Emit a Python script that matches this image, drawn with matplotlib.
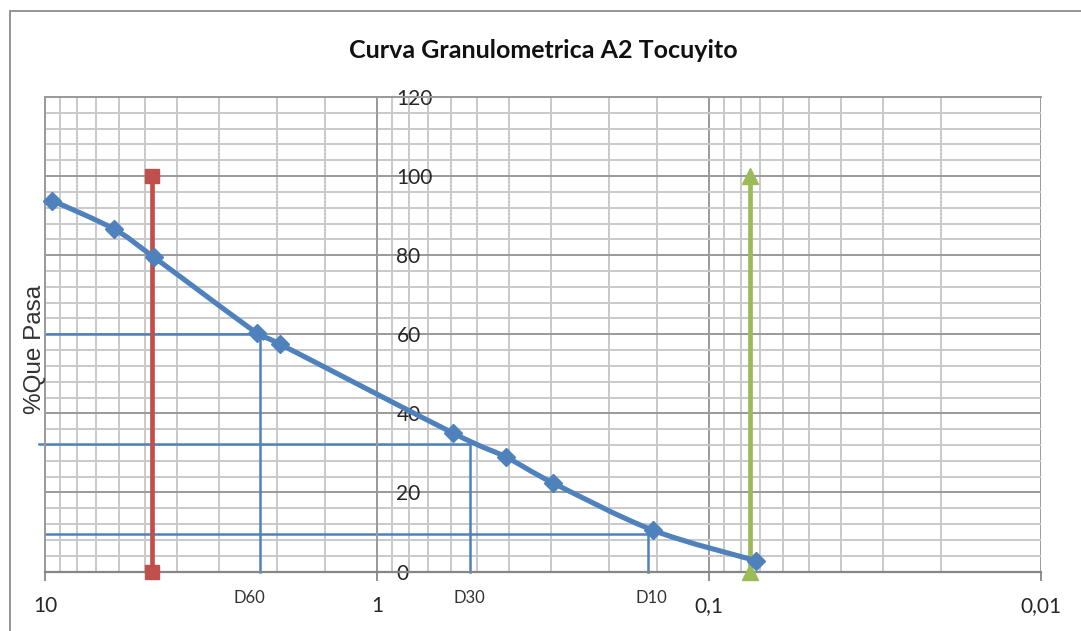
import numpy as np
import matplotlib.pyplot as plt
from matplotlib.path import Path
from matplotlib.patches import PathPatch, Rectangle
from matplotlib.ticker import FixedLocator, LogLocator, MultipleLocator, NullFormatter

#-----------------------------------------------------------------------------------------------------------
# Datos (abertura del tamiz en mm, % que pasa)
abertura = [9.5, 6.2, 4.7, 2.3, 1.96, 0.59, 0.41, 0.295, 0.147, 0.072]
pasa = [93.8, 86.6, 79.5, 60.3, 57.5, 35.0, 29.0, 22.4, 10.4, 2.7]

# Lineas verticales de los tamices No. 4 y No. 200
tamiz4_x = [4.75, 4.75]
tamiz4_y = [0, 100]
tamiz200_x = [0.075, 0.075]
tamiz200_y = [0, 100]

# Diametros efectivos
d_nombres = ['D60', 'D30', 'D10']
d_pasa = [60.0, 32.3, 9.4]
d_diam = [2.25, 0.526, 0.153]
d_inicio = [10.0, 10.46, 10.0]

# Ejes
x_ticks = [10, 1, 0.1, 0.01]
x_labels = ['10', '1', '0,1', '0,01']
y_ticks = [0, 20, 40, 60, 80, 100, 120]
extra_grid = [1.436, 0.1436]
#-----------------------------------------------------------------------------------------------------------

azul = '#4F81BD'
rojo = '#C0504D'
verde = '#9BBB59'
gris_menor = '#c9c9c9'
gris_mayor = '#9a9a9a'
texto = '#262626'

W, H = 1081, 631
fig = plt.figure(figsize=(W / 100, H / 100), dpi=100)

# Borde del area del grafico
fig.patches.append(Rectangle((10 / W, -0.1), 1.2, (H - 11) / H + 0.1, transform=fig.transFigure,
                             fill=False, ec='#8c8c8c', lw=1.3))

ax = fig.add_axes([45 / W, 59.5 / H, 996 / W, 474.5 / H])
ax.set_xscale('log')
ax.set_xlim(10, 0.01)
ax.set_ylim(0, 120)

# Rejilla
ax.xaxis.set_major_locator(FixedLocator(x_ticks))
ax.xaxis.set_minor_locator(LogLocator(base=10, subs=np.arange(2, 10)))
ax.xaxis.set_minor_formatter(NullFormatter())
ax.set_xticklabels(x_labels)
ax.yaxis.set_major_locator(FixedLocator(y_ticks))
ax.yaxis.set_minor_locator(MultipleLocator(4))
ax.grid(which='minor', color=gris_menor, lw=1.4, zorder=0)
ax.grid(which='major', color=gris_mayor, lw=1.4, zorder=0)
for xg in extra_grid:
    ax.axvline(xg, color=gris_menor, lw=1.4, zorder=0)
ax.set_axisbelow(True)

# Eje vertical cruza en x = 1
ax.spines['right'].set_position(('data', 1))
ax.spines['right'].set_color(gris_mayor)
ax.spines['right'].set_linewidth(1.4)
ax.yaxis.set_ticks_position('right')
for s in ['left', 'top']:
    ax.spines[s].set_color(gris_mayor)
    ax.spines[s].set_linewidth(1.4)
ax.spines['bottom'].set_color('#868686')
ax.spines['bottom'].set_linewidth(1.6)

ax.tick_params(axis='y', which='both', length=0, pad=14, labelsize=15, labelcolor=texto)
ax.tick_params(axis='x', which='major', length=6.5, width=1.3, color='#868686', pad=11,
               labelsize=15, labelcolor=texto)
ax.tick_params(axis='x', which='minor', length=0)
for lab in ax.get_xticklabels() + ax.get_yticklabels():
    lab.set_family('Lato')

# Lineas de D60, D30, D10
for nombre, yp, xd, x0 in zip(d_nombres, d_pasa, d_diam, d_inicio):
    ax.plot([x0, xd, xd], [yp, yp, 0], color=azul, lw=1.8, zorder=2, clip_on=False)

d_offset = [-8, 0, 3]
for nombre, xd, dx in zip(d_nombres, d_diam, d_offset):
    ax.annotate(nombre, xy=(xd, 0), xytext=(dx, -19), textcoords='offset points',
                ha='center', va='center', fontsize=12, family='Lato', color='#333333')

# Tamices No. 4 y No. 200
ax.plot(tamiz4_x, tamiz4_y, color=rojo, lw=3.4, marker='s', ms=10, zorder=3, clip_on=False)
ax.plot(tamiz200_x, tamiz200_y, color=verde, lw=3.4, marker='^', ms=11, zorder=3, clip_on=False)

# Curva granulometrica suavizada
u = np.log10(abertura)
pts = np.column_stack([u, pasa])
n = len(pts)
verts = [pts[0]]
codes = [Path.MOVETO]
for i in range(n - 1):
    p0 = pts[max(i - 1, 0)]
    p1 = pts[i]
    p2 = pts[i + 1]
    p3 = pts[min(i + 2, n - 1)]
    verts += [p1 + (p2 - p0) / 6, p2 - (p3 - p1) / 6, p2]
    codes += [Path.CURVE4] * 3
verts = np.array(verts)
verts[:, 0] = 10 ** verts[:, 0]
ax.add_patch(PathPatch(Path(verts, codes), fill=False, ec=azul, lw=3.7, zorder=4))
ax.plot(abertura, pasa, ls='none', marker='D', ms=9, color=azul, zorder=5, clip_on=False)

# Titulo y etiqueta del eje
fig.text(543 / W, 1 - 50 / H, 'Curva Granulometrica A2 Tocuyito', ha='center', va='center',
         fontsize=18, fontweight='bold', family='Lato', color='#111111')
fig.text(35 / W, 1 - 349 / H, '%Que Pasa', ha='center', va='center', rotation=90,
         fontsize=17.5, family='Liberation Sans', color='#333333')

fig.savefig('out.png', dpi=100)
